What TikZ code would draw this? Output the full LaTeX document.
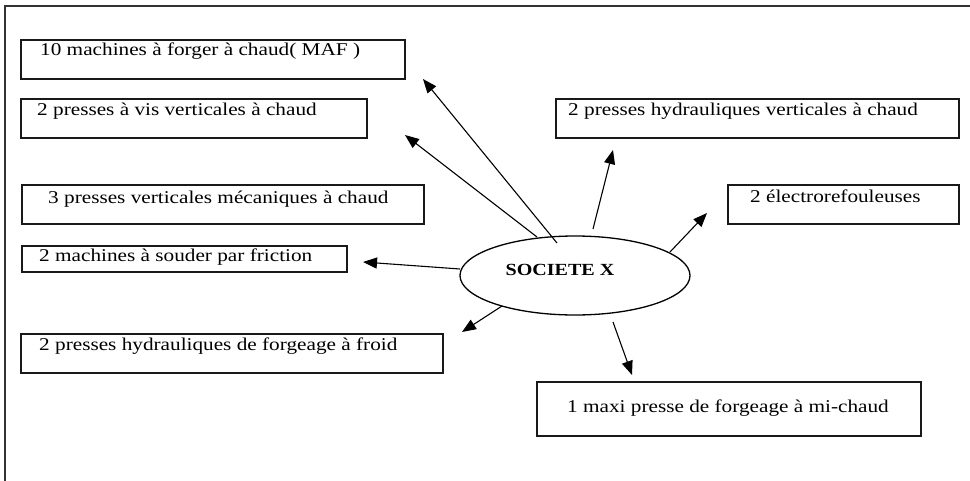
\documentclass[tikz,border=0pt]{standalone}
\usepackage{fontspec}
\setmainfont{Liberation Serif}[FakeStretch=1.18]
\usetikzlibrary{arrows.meta,shapes.geometric}
\begin{document}
\begin{tikzpicture}[x=1pt,y=-1pt,
  itembox/.style={draw, line width=1.5pt, black!90, anchor=north west, inner sep=0pt},
  itemtext/.style={anchor=base west, inner sep=0pt, font=\fontsize{18}{20}\selectfont},
  link/.style={line width=1.1pt, -{Triangle[length=14pt,width=11pt]}}]
\useasboundingbox (0,0) rectangle (970,480);
% outer frame (right and bottom sides fall outside the page)
\draw[line width=2.2pt, black!80] (5,6) rectangle (985,495);

% equipment boxes
\node[itembox, minimum width=384pt, minimum height=39pt] (b1) at (20,39) {};
\node[itembox, minimum width=346pt, minimum height=39pt] (b2) at (20,98) {};
\node[itembox, minimum width=402pt, minimum height=39pt] (b3) at (21,184) {};
\node[itembox, minimum width=325pt, minimum height=26pt] (b4) at (21,245) {};
\node[itembox, minimum width=422pt, minimum height=39pt] (b5) at (20,333) {};
\node[itembox, minimum width=403pt, minimum height=39pt] (b6) at (555,98) {};
\node[itembox, minimum width=231pt, minimum height=39pt] (b7) at (727,184) {};
\node[itembox, minimum width=384pt, minimum height=54pt] (b8) at (536,381) {};

\node[itemtext] (t1) at (40,55) {10 machines à forger à chaud( MAF )};
\node[itemtext] (t2) at (37,115) {2 presses à vis verticales à chaud};
\node[itemtext] (t3) at (48,203) {3 presses verticales mécaniques à chaud};
\node[itemtext] (t4) at (39,261) {2 machines à souder par friction};
\node[itemtext] (t5) at (39,350) {2 presses hydrauliques de forgeage à froid};
\node[itemtext] (t6) at (568,115) {2 presses hydrauliques verticales à chaud};
\node[itemtext] (t7) at (750,202) {2 électrorefouleuses};
\node[itemtext] (t8) at (567,412) {1 maxi presse de forgeage à mi-chaud};

% central company
\node[draw, ellipse, line width=1.3pt, minimum width=230pt, minimum height=79pt, inner sep=0pt] (soc) at (575,275.5) {};
\node[anchor=base, inner sep=0pt, font=\fontsize{17}{19}\selectfont\bfseries] (soclabel) at (560,275) {SOCIETE X};

% arrow ends
\coordinate (sa) at (557,243); \coordinate (ea) at (423,79);
\coordinate (sb) at (537,237); \coordinate (eb) at (405,135);
\coordinate (sc) at (593,229); \coordinate (ec) at (613,150);
\coordinate (sd) at (670,252); \coordinate (ed) at (707,213);
\coordinate (se) at (460,269); \coordinate (ee) at (363,262);
\coordinate (sf) at (502,306); \coordinate (ef) at (462,332);
\coordinate (sg) at (613,322); \coordinate (eg) at (632,375);

\draw[link] (sa) -- (ea);
\draw[link] (sb) -- (eb);
\draw[link] (sc) -- (ec);
\draw[link] (sd) -- (ed);
\draw[link] (se) -- (ee);
\draw[link] (sf) -- (ef);
\draw[link] (sg) -- (eg);
\end{tikzpicture}
\end{document}
